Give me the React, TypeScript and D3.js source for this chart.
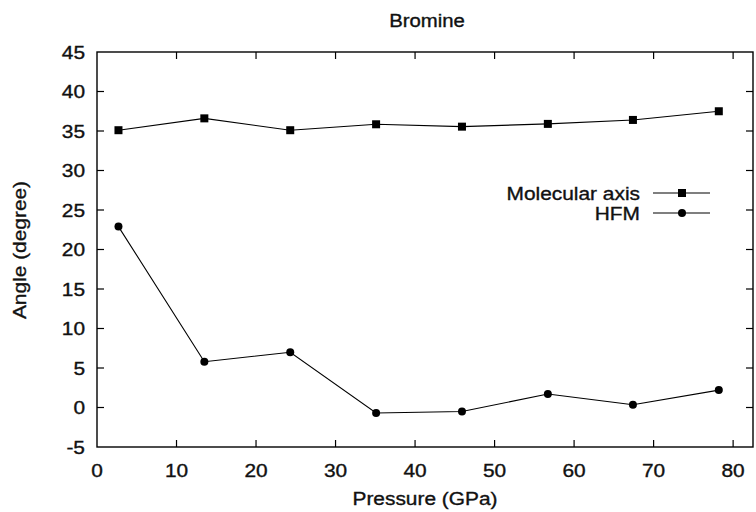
import React from "react";
import * as d3 from "d3";

const pressure = [2.7, 13.5, 24.3, 35.1, 45.9, 56.7, 67.4, 78.2];
const molecularAxis = [35.1, 36.6, 35.1, 35.85, 35.55, 35.9, 36.4, 37.5];
const hfm = [22.9, 5.8, 7.0, -0.7, -0.5, 1.7, 0.35, 2.2];
const xTicks = [0, 10, 20, 30, 40, 50, 60, 70, 80];
const yTicks = [-5, 0, 5, 10, 15, 20, 25, 30, 35, 40, 45];

const W = 756;
const H = 512;
const left = 97;
const right = 753;
const top = 52;
const bottom = 447;
const FONT = "'Liberation Sans', Arial, Helvetica, sans-serif";
const FS = 18.5;
const SX = 1.13;

const x = d3.scaleLinear().domain([0, 82.5]).range([left, right]);
const y = d3.scaleLinear().domain([-5, 45]).range([bottom, top]);

type LabelProps = {
  x: number;
  y: number;
  anchor: "start" | "middle" | "end";
  rotate?: number;
  size?: number;
  children: React.ReactNode;
};

// Text drawn with a slight horizontal widening, as in the typeset figure.
function Label({ x: lx, y: ly, anchor, rotate = 0, size = FS, children }: LabelProps) {
  return (
    <text
      transform={`translate(${lx},${ly}) rotate(${rotate}) scale(${SX},1)`}
      textAnchor={anchor}
      fontFamily={FONT}
      fontSize={size}
      fill="#111"
      stroke="#111"
      strokeWidth={0.35}
    >
      {children}
    </text>
  );
}

export default function App() {
  const line = d3
    .line<[number, number]>()
    .x((d) => x(d[0]))
    .y((d) => y(d[1]));
  const molPts: [number, number][] = pressure.map((p, i) => [p, molecularAxis[i]]);
  const hfmPts: [number, number][] = pressure.map((p, i) => [p, hfm[i]]);
  const tickLen = 7;

  const legendRows = [
    { label: "Molecular axis", ly: 193, marker: "square" },
    { label: "HFM", ly: 213, marker: "circle" },
  ];

  const square = (cx: number, cy: number, k: string) => (
    <rect key={k} x={cx - 4} y={cy - 4} width={8} height={8} fill="#000" />
  );
  const circle = (cx: number, cy: number, k: string) => (
    <circle key={k} cx={cx} cy={cy} r={4} fill="#000" />
  );

  return (
    <svg
      width={W}
      height={H}
      style={{ position: "absolute", left: 0, top: 0, background: "#fff" }}
    >
      <rect x={0} y={0} width={W} height={H} fill="#fff" />

      {/* frame */}
      <rect
        x={left}
        y={top}
        width={right - left}
        height={bottom - top}
        fill="none"
        stroke="#000"
        strokeWidth={1.4}
      />

      {/* x ticks, inward on bottom and top */}
      {xTicks.map((t) => (
        <g key={`xt${t}`}>
          {t > 0 && (
            <>
              <line x1={x(t)} x2={x(t)} y1={bottom} y2={bottom - tickLen} stroke="#000" strokeWidth={1.2} />
              <line x1={x(t)} x2={x(t)} y1={top} y2={top + tickLen} stroke="#000" strokeWidth={1.2} />
            </>
          )}
          <Label x={x(t)} y={476.5} anchor="middle">
            {t}
          </Label>
        </g>
      ))}

      {/* y ticks, inward on left and right */}
      {yTicks.map((t) => (
        <g key={`yt${t}`}>
          {t > -5 && t < 45 && (
            <>
              <line x1={left} x2={left + tickLen} y1={y(t)} y2={y(t)} stroke="#000" strokeWidth={1.2} />
              <line x1={right} x2={right - tickLen} y1={y(t)} y2={y(t)} stroke="#000" strokeWidth={1.2} />
            </>
          )}
          <Label x={85} y={y(t) + 6.5} anchor="end">
            {t}
          </Label>
        </g>
      ))}

      {/* series */}
      <path d={line(molPts) ?? ""} fill="none" stroke="#000" strokeWidth={1.1} />
      <path d={line(hfmPts) ?? ""} fill="none" stroke="#000" strokeWidth={1.1} />
      {molPts.map((d, i) => square(x(d[0]), y(d[1]), `m${i}`))}
      {hfmPts.map((d, i) => circle(x(d[0]), y(d[1]), `h${i}`))}

      {/* legend */}
      {legendRows.map((r) => (
        <g key={r.label}>
          <Label x={640} y={r.ly + 6.5} anchor="end">
            {r.label}
          </Label>
          <line x1={653} x2={710} y1={r.ly} y2={r.ly} stroke="#000" strokeWidth={1.1} />
          {r.marker === "square" ? square(682, r.ly, "ls") : circle(682, r.ly, "lc")}
        </g>
      ))}

      {/* titles */}
      <Label x={427} y={27} anchor="middle" size={18}>
        Bromine
      </Label>
      <Label x={425} y={505} anchor="middle">
        Pressure (GPa)
      </Label>
      <Label x={25.5} y={250} anchor="middle" rotate={-90}>
        Angle (degree)
      </Label>
    </svg>
  );
}
